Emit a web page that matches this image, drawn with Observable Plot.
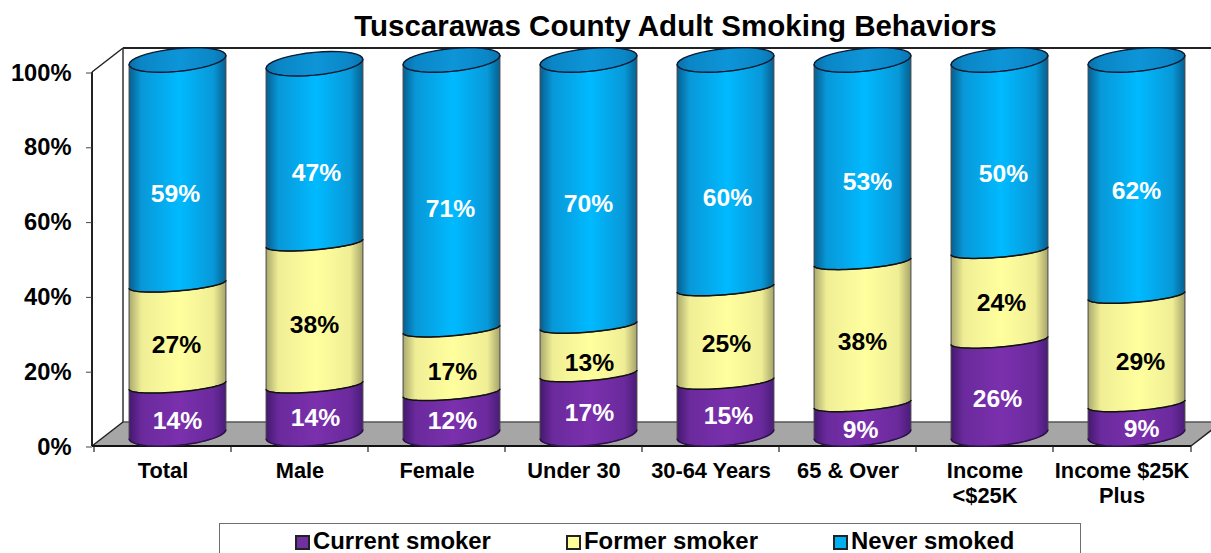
<!DOCTYPE html>
<html>
<head>
<meta charset="utf-8">
<script src="https://cdn.jsdelivr.net/npm/d3@7"></script>
<script src="https://cdn.jsdelivr.net/npm/@observablehq/plot@0.6"></script>
<style>
  html, body { margin: 0; padding: 0; background: #fff; overflow: hidden; }
  #page { position: relative; width: 1211px; height: 553px; overflow: hidden; font-family: "Liberation Sans", Arial, sans-serif; font-weight: bold; color: #000; }
  #title { position: absolute; left: 140px; width: 1071px; top: 9px; height: 34px; line-height: 34px; text-align: center; font-size: 29.5px; white-space: nowrap; }
  #chart { position: absolute; left: 0; top: 44px; }
  #chart svg { display: block; overflow: hidden; }
  #legend { position: absolute; left: 219px; top: 523px; width: 862px; height: 40px; border: 1.5px solid #6e6e6e; box-sizing: border-box; background: #fff; }
  .item { position: absolute; top: 2px; height: 30px; line-height: 30px; font-size: 23.9px; white-space: nowrap; }
  .swatch { position: absolute; top: 9px; left: -18px; width: 15px; height: 15px; box-sizing: border-box; border: 2px solid #222; }
</style>
</head>
<body>
<div id="page">
  <div id="title"></div>
  <div id="chart"></div>
  <div id="legend"></div>
</div>
<script>
const titleText = "Tuscarawas County Adult Smoking Behaviors";
const categories = ["Total", "Male", "Female", "Under 30", "30-64 Years", "65 & Over", "Income\n<$25K", "Income $25K\nPlus"];
const seriesNames = ["Current smoker", "Former smoker", "Never smoked"];
const current = [14, 14, 12, 17, 15, 9, 26, 9];
const former = [27, 38, 17, 13, 25, 38, 24, 29];
const never = [59, 47, 71, 70, 60, 53, 50, 62];
const seriesValues = [current, former, never];
const yTicks = [0, 20, 40, 60, 80, 100];
const seriesColors = ["#7030a0", "#ffff99", "#00b0f0"];
const labelColors = ["#ffffff", "#000000", "#ffffff"];
const gradientStops = [
  ["#45186f", "#6a2a9c", "#7b30ad", "#6a2a9c", "#4a1c78"],
  ["#aaa96e", "#f0ee95", "#ffff9e", "#f0ee95", "#a5a46a"],
  ["#075f90", "#0898d8", "#00baff", "#0898d8", "#06608f"]
];
const gradientOffsets = [0, 0.13, 0.52, 0.87, 1];

// Hand nudges (pixels) of each data label off its segment's centre, per series.
const labelNudgeX = [
  [-1, 0, 0, 0, 2, -3, -3, 4],
  [-2, -1, 0, 0, 0, -1, 1, 3],
  [-3, 1, -2, -1, 1, 4, 3, -1]
];
const labelNudgeY = [
  [1, -2, -3, -2, -2, 0, 1, -1],
  [1, 2, 2, 4, 0, 0, -1, 3],
  [11, 9, 4, 1, 13, 10, 8, 3]
];

const rows = categories.flatMap((category, c) => {
  let base = 0;
  return seriesNames.map((series, s) => {
    const value = seriesValues[s][c];
    const row = {category, c, series, s, value, mid: base + value / 2};
    base += value;
    return row;
  });
});

// Pseudo-3D geometry of the chart box and the cylinders (pixels).
const depthX = 31, depthY = 24;
const offX = 15, offY = 12;
const barShare = 0.707;
const tiltS = 4.5, capB = 11.4;
const innerTilt = 4, innerB = 6.6, innerDrop = 3.7;

const arcPoints = (cx, cy, a, b, s, from, to) =>
  d3.range(0, 37).map(k => {
    const t = from + (to - from) * k / 36;
    return [cx + a * Math.cos(t), cy + b * Math.sin(t) - s * Math.cos(t)];
  });
const toPath = pts => "M" + pts.map(p => p[0].toFixed(2) + "," + p[1].toFixed(2)).join("L");

function chartBox(index, {x, y}, values, {width}) {
  const g = d3.create("svg:g").attr("fill", "none");
  const [x0, x1] = x.range();
  const y0 = y(0), y100 = y(100);
  g.append("polygon")
    .attr("points", [[x0, y0], [x0 + depthX, y0 - depthY], [x1 + depthX, y0 - depthY], [x1, y0]].join(" "))
    .attr("fill", "#a6a6a6");
  const line = (a, b, c, d, w, col) => g.append("line").attr("x1", a).attr("y1", b).attr("x2", c).attr("y2", d)
    .attr("stroke", col).attr("stroke-width", w);
  line(x0 + depthX, y0 - depthY, x1 + depthX, y0 - depthY, 1.5, "#555");
  line(x0 + depthX, y100 - depthY, width, y100 - depthY, 2, "#222");
  line(x0 + depthX, y100 - depthY, x0 + depthX, y0 - depthY, 1.5, "#333");
  line(x0, y100, x0 + depthX, y100 - depthY, 1.5, "#222");
  line(x0, y0, x0 + depthX, y0 - depthY, 1.5, "#222");
  line(x1, y0, x1 + depthX, y0 - depthY, 1.5, "#222");
  line(x0, y100, x0, y0, 2, "#222");
  line(x0, y0, x1, y0, 2, "#111");
  categories.forEach(c => line(x(c), y0, x(c), y0 + 6, 1.2, "#222"));
  line(x1, y0, x1, y0 + 6, 1.2, "#222");
  return g.node();
}

function gradientDefs() {
  const defs = d3.create("svg:defs");
  const addGradient = (id, colors) => {
    const g = defs.append("linearGradient").attr("id", id).attr("x1", 0).attr("x2", 1).attr("y1", 0).attr("y2", 0);
    colors.forEach((col, i) => g.append("stop").attr("offset", gradientOffsets[i]).attr("stop-color", col));
  };
  gradientStops.forEach((colors, i) => addGradient("cyl" + i, colors));
  addGradient("cap", ["#0a6fa8", "#0b86c6", "#0d95d8", "#0b86c6", "#0a74ae"]);
  return defs.node();
}

function cylinders(index, {x}, values) {
  const g = d3.create("svg:g");
  const bw = x.bandwidth();
  const a = bw * barShare / 2;
  const caps = [];
  for (const i of index) {
    const row = rows[i];
    const cx = values.x[i] + bw / 2 + offX;
    const isBottom = row.s === 0, isTop = row.s === seriesNames.length - 1;
    const yb = values.y1[i] - offY + (isBottom ? 0 : innerDrop);
    const yt = values.y2[i] - offY + (isTop ? 0 : innerDrop);
    const low = isBottom ? arcPoints(cx, yb, a, capB, tiltS, 0, Math.PI) : arcPoints(cx, yb, a, innerB, innerTilt, 0, Math.PI);
    const high = isTop ? arcPoints(cx, yt, a, capB, tiltS, Math.PI, 0) : arcPoints(cx, yt, a, innerB, innerTilt, Math.PI, 0);
    g.append("path")
      .attr("d", toPath(low.concat(high)) + "Z")
      .attr("fill", `url(#cyl${row.s})`)
      .attr("stroke", "#444")
      .attr("stroke-width", 1);
    caps.push(() => {
      g.append("path").attr("d", toPath(low)).attr("fill", "none")
        .attr("stroke", isBottom ? "#2e0f50" : "#111").attr("stroke-width", 1.5);
      if (isTop) {
        g.append("path")
          .attr("d", toPath(arcPoints(cx, yt, a, capB, tiltS, 0, 2 * Math.PI)) + "Z")
          .attr("fill", "url(#cap)")
          .attr("stroke", "#0c1a33")
          .attr("stroke-width", 1.4);
      }
    });
  }
  caps.forEach(f => f());
  return g.node();
}

const plot = Plot.plot({
  width: 1211,
  height: 479,
  marginLeft: 92,
  marginRight: 20,
  marginTop: 28,
  marginBottom: 77,
  style: {fontFamily: '"Liberation Sans", Arial, sans-serif', fontWeight: "bold", background: "transparent", overflow: "hidden"},
  x: {type: "band", domain: categories, padding: 0, label: null},
  y: {domain: [0, 100], label: null},
  color: {domain: seriesNames, range: seriesColors},
  marks: [
    gradientDefs,
    chartBox,
    Plot.axisY({ticks: yTicks, tickFormat: d => d + "%", tickSize: 6, tickPadding: 15, fontSize: 23.7, dy: 0.5, stroke: "#444", label: null}),
    Plot.axisX({tickSize: 0, tickPadding: 14, fontSize: 21.8, lineHeight: 1.15, label: null, textAnchor: "middle"}),
    Plot.barY(rows, Plot.stackY({x: "category", y: "value", fill: "series", order: null, render: cylinders})),
    ...rows.map(r => Plot.text([r], {
      x: "category", y: "mid",
      text: d => d.value + "%",
      fill: labelColors[r.s],
      dx: 15.5 + labelNudgeX[r.s][r.c],
      dy: labelNudgeY[r.s][r.c],
      fontSize: 24.7, fontWeight: "bold"
    }))
  ]
});
document.getElementById("chart").appendChild(plot);

document.getElementById("title").textContent = titleText;
const legendLefts = [93, 364, 631];
const legend = document.getElementById("legend");
seriesNames.forEach((name, i) => {
  const item = document.createElement("div");
  item.className = "item";
  item.style.left = legendLefts[i] + "px";
  item.textContent = name;
  const sw = document.createElement("div");
  sw.className = "swatch";
  sw.style.background = seriesColors[i];
  item.appendChild(sw);
  legend.appendChild(item);
});
</script>
</body>
</html>
